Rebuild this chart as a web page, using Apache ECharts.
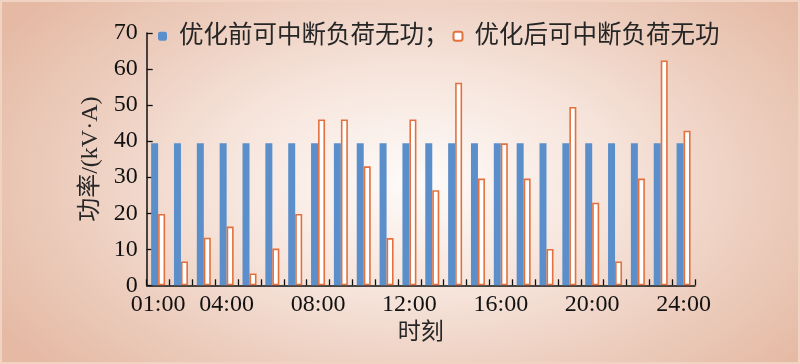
<!DOCTYPE html>
<html>
<head>
<meta charset="utf-8">
<script src="https://cdn.jsdelivr.net/npm/echarts@6/dist/echarts.min.js"></script>
<style>
html,body{margin:0;padding:0;}
#wrap{width:800px;height:364px;box-sizing:border-box;border:2px solid #f1d3c4;
background:radial-gradient(ellipse 62% 78% at 52% 50%, #fefbf9 0%, #f6e4db 40%, #ecccbc 72%, #e5b9a4 100%);}
#chart{width:796px;height:360px;}
</style>
</head>
<body>
<div id="wrap"><div id="chart"></div></div>
<script>
const categories = ['01:00','02:00','03:00','04:00','05:00','06:00','07:00','08:00','09:00','10:00','11:00','12:00',
  '13:00','14:00','15:00','16:00','17:00','18:00','19:00','20:00','21:00','22:00','23:00','24:00'];
const beforeValues = [39.4,39.4,39.4,39.4,39.4,39.4,39.4,39.4,39.4,39.4,39.4,39.4,
  39.4,39.4,39.4,39.4,39.4,39.4,39.4,39.4,39.4,39.4,39.4,39.4];
const afterValues = [19.8,6.6,13.2,16.3,3.3,10.2,19.8,46.0,46.0,33.0,13.1,46.0,
  26.4,56.2,29.6,39.4,29.6,10.1,49.5,22.9,6.6,29.6,62.4,42.9];
const shownLabels = ['01:00','04:00','08:00','12:00','16:00','20:00','24:00'];
const seriesNames = ['优化前可中断负荷无功；','优化后可中断负荷无功'];
const yTicks = {min:0, max:70, interval:10};

const FONT = "'Liberation Serif','Noto Sans CJK SC',serif";
const TXT = '#262626';
const chart = echarts.init(document.getElementById('chart'), null, {renderer:'canvas'});
chart.setOption({
  backgroundColor:'transparent',
  textStyle:{fontFamily:FONT},
  legend:{
    left:156, top:22, padding:0,
    itemWidth:9, itemHeight:9, itemGap:4,
    data: seriesNames,
    formatter: function(n){ return '{a|' + n + '}'; },
    textStyle:{fontSize:24.5, color:TXT, fontFamily:FONT,
      rich:{a:{fontSize:24.5, color:TXT, fontFamily:FONT, padding:[0,0,0,7]}}}
  },
  grid:{left:144.7, right:103, top:31, bottom:76.7, containLabel:false},
  xAxis:{
    type:'category', data:categories,
    name:'时刻', nameLocation:'middle', nameGap:34,
    nameTextStyle:{fontSize:23, color:TXT, fontFamily:FONT},
    axisLine:{lineStyle:{color:'#111', width:1.5}},
    axisTick:{show:true, inside:true, length:6, interval:0, alignWithLabel:false, lineStyle:{color:'#111', width:1.3}},
    axisLabel:{
      interval:function(i, v){ return shownLabels.indexOf(v) >= 0; },
      fontSize:24, color:'#111', fontFamily:FONT, margin:7
    },
    splitLine:{show:false}
  },
  yAxis:{
    type:'value', min:yTicks.min, max:yTicks.max, interval:yTicks.interval,
    name:'功率/(kV·A)', nameLocation:'middle', nameGap:43,
    nameTextStyle:{fontSize:24, color:TXT, fontFamily:FONT},
    axisLine:{show:true, lineStyle:{color:'#111', width:1.5}},
    axisTick:{show:true, inside:true, length:6, lineStyle:{color:'#111', width:1.3}},
    axisLabel:{fontSize:24, color:'#111', fontFamily:FONT, margin:9},
    splitLine:{show:false}
  },
  series:[
    {name:seriesNames[0], type:'bar', data:beforeValues, barWidth:7, barGap:'0%',
     itemStyle:{color:'#5b8fcb'}, animation:false},
    {name:seriesNames[1], type:'bar', data:afterValues, barWidth:7, barGap:'0%',
     itemStyle:{color:'#ffffff', borderColor:'#e4713d', borderWidth:1.6}, animation:false}
  ]
});
</script>
</body>
</html>
